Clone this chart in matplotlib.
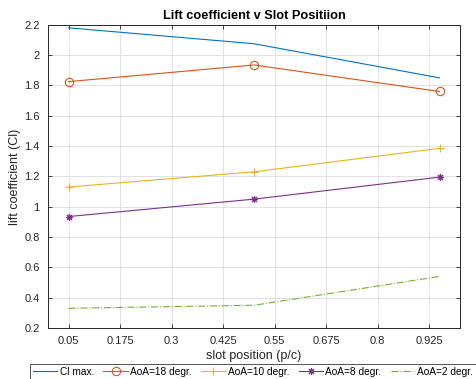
import matplotlib.pyplot as plt

# slot position (p/c) and lift coefficient per case
slot_pos = [0.05, 0.5, 0.95]
cl_max = [2.18, 2.075, 1.85]
aoa_18 = [1.825, 1.935, 1.76]
aoa_10 = [1.13, 1.23, 1.385]
aoa_8 = [0.935, 1.05, 1.195]
aoa_2 = [0.33, 0.35, 0.54]

x_ticks = [0.05, 0.175, 0.3, 0.425, 0.55, 0.675, 0.8, 0.925]
x_tick_labels = ['0.05', '0.175', '0.3', '0.425', '0.55', '0.675', '0.8', '0.925']
y_ticks = [0.2, 0.4, 0.6, 0.8, 1, 1.2, 1.4, 1.6, 1.8, 2, 2.2]
y_tick_labels = ['0.2', '0.4', '0.6', '0.8', '1', '1.2', '1.4', '1.6', '1.8', '2', '2.2']

plt.rcParams['font.family'] = ['Liberation Sans', 'DejaVu Sans']
axis_col = '#262626'

fig = plt.figure(figsize=(4.77, 3.79), dpi=100)
ax = fig.add_axes([0.1006, 0.1346, 0.864, 0.8])

ax.plot(slot_pos, cl_max, color='#0072BD', lw=0.8, label='Cl max.')
ax.plot(slot_pos, aoa_18, color='#D95319', lw=0.8, marker='o', ms=6,
        mfc='none', mew=0.8, label='AoA=18 degr.')
ax.plot(slot_pos, aoa_10, color='#EDB120', lw=0.8, marker='+', ms=6,
        mew=0.8, label='AoA=10 degr.')
ax.plot(slot_pos, aoa_8, color='#7E2F8E', lw=0.8, marker=(8, 2, 0), ms=5,
        mew=0.8, label='AoA=8 degr.')
ax.plot(slot_pos, aoa_2, color='#77AC30', lw=0.8, ls='-.', label='AoA=2 degr.')

ax.set_xlim(0, 1)
ax.set_ylim(0.2, 2.2)
ax.set_xticks(x_ticks)
ax.set_xticklabels(x_tick_labels)
ax.set_yticks(y_ticks)
ax.set_yticklabels(y_tick_labels)
ax.grid(True, color='#dcdcdc', lw=0.6)
ax.set_axisbelow(True)
ax.tick_params(direction='in', length=3, width=0.6, labelsize=8,
               colors=axis_col, top=True, right=True, pad=6)
for s in ax.spines.values():
    s.set_color(axis_col)
    s.set_linewidth(0.7)

ax.set_title('Lift coefficient v Slot Positiion', fontsize=9.2,
             fontweight='bold', pad=4)
ax.set_xlabel('slot position (p/c)', fontsize=9, color=axis_col, labelpad=3)
ax.set_ylabel('lift coefficient (Cl)', fontsize=9, color=axis_col, labelpad=2)

leg = fig.legend(loc='upper left', bbox_to_anchor=(30 / 477, 1 - 364 / 379),
                 ncol=5, fontsize=7.3, frameon=True, fancybox=False,
                 handlelength=2.4, columnspacing=0.9, handletextpad=0.25,
                 borderaxespad=0, borderpad=0.3)
leg.get_frame().set_edgecolor(axis_col)
leg.get_frame().set_linewidth(0.7)

fig.savefig('out.png', dpi=100)
